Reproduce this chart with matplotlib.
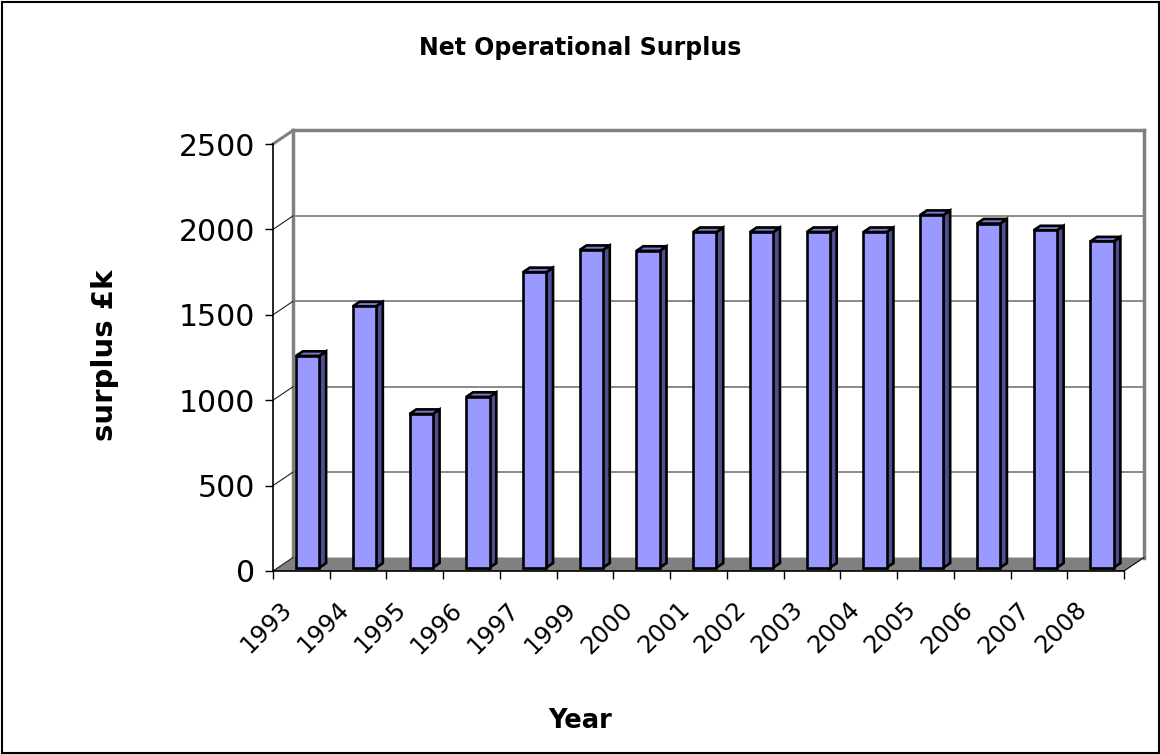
import numpy as np
import matplotlib
matplotlib.use('agg')
from matplotlib import pyplot as plt
from matplotlib.patches import Polygon, Rectangle
from matplotlib.transforms import ScaledTranslation

# ---------------------------------- data ----------------------------------
years = ['1993', '1994', '1995', '1996', '1997', '1999', '2000', '2001',
         '2002', '2003', '2004', '2005', '2006', '2007', '2008']
surplus = [1240, 1530, 900, 1000, 1730, 1860, 1855, 1965,
           1965, 1965, 1965, 2065, 2015, 1975, 1910]
y_ticks = [0, 500, 1000, 1500, 2000, 2500]

# ---------------------------------- style ----------------------------------
plt.rcParams['font.family'] = ['DejaVu Sans']
W, H = 1160, 754
front_col = '#9999ff'
side_col = '#4f4f8f'
top_col = '#7878cc'
wall_grey = '#808080'

fig = plt.figure(figsize=(W / 100, H / 100), dpi=100)
ax = fig.add_axes([273 / W, 1 - 571 / H, 851 / W, 427 / H])
ax.set_xlim(0, len(years))
ax.set_ylim(0, 2500)
ax.patch.set_visible(False)

# depth of the 3d box, in data units (~20 px right, ~13.5 px up)
px_x = 851 / len(years)
px_y = 427 / 2500
dx = 20 / px_x
dy = 13.5 / px_y
n = len(years)

# floor
ax.add_patch(Polygon([(0, 0), (n, 0), (n + dx, dy), (dx, dy)], closed=True,
                     facecolor=wall_grey, edgecolor='none', zorder=1, clip_on=False))
ax.plot([n, n + dx], [0, dy], color='black', lw=0.8, zorder=2, clip_on=False)

# back wall gridlines and border
for v in y_ticks[1:]:
    lw = 2.5 if v == y_ticks[-1] else 1.3
    ax.plot([dx, n + dx], [v + dy, v + dy], color=wall_grey, lw=lw, zorder=1, clip_on=False)
for xe in [dx, n + dx]:
    ax.plot([xe, xe], [dy, 2500 + dy], color=wall_grey, lw=2.5, zorder=1, clip_on=False)

# side wall diagonals
for v in y_ticks:
    if v == y_ticks[-1]:
        ax.plot([0, dx], [v, v + dy], color=wall_grey, lw=2.2, zorder=1, clip_on=False)
    else:
        ax.plot([0, dx], [v, v + dy], color='#202020', lw=0.8, zorder=1, clip_on=False)

# bars
f = 0.245
g = f + 0.34
for i, v in enumerate(surplus):
    x0 = i + 0.32
    x1 = i + 0.73
    front = [(x0 + f * dx, f * dy), (x1 + f * dx, f * dy),
             (x1 + f * dx, v + f * dy), (x0 + f * dx, v + f * dy)]
    side = [(x1 + f * dx, f * dy), (x1 + g * dx, g * dy),
            (x1 + g * dx, v + g * dy), (x1 + f * dx, v + f * dy)]
    top = [(x0 + f * dx, v + f * dy), (x1 + f * dx, v + f * dy),
           (x1 + g * dx, v + g * dy), (x0 + g * dx, v + g * dy)]
    for pts, col in [(side, side_col), (top, top_col), (front, front_col)]:
        ax.add_patch(Polygon(pts, closed=True, facecolor=col, edgecolor='black',
                             lw=1.9, joinstyle='miter', zorder=3, clip_on=False))

# axes
for s in ['top', 'right']:
    ax.spines[s].set_visible(False)
ax.spines['left'].set_color('black')
ax.spines['bottom'].set_color('black')
ax.spines['left'].set_linewidth(1.2)
ax.spines['bottom'].set_linewidth(1.2)

ax.set_yticks(y_ticks)
ax.tick_params(axis='y', length=6, width=1, pad=7, labelsize=21.5, colors='black')

ax.set_xticks(np.arange(n + 1), minor=True)
ax.set_xticks(np.arange(n) + 0.5, labels=years)
ax.tick_params(axis='x', which='minor', length=6, width=1, color='black')
ax.tick_params(axis='x', which='major', length=0, pad=19, labelsize=17.5)
for lab in ax.get_xticklabels():
    lab.set_rotation(45)
    lab.set_ha('right')
    lab.set_transform(lab.get_transform() + ScaledTranslation(-0.045, 0, fig.dpi_scale_trans))

# texts
fig.text(580 / W, 1 - 48 / H, 'Net Operational Surplus', ha='center', va='center',
         fontsize=17, fontweight='bold')
fig.text(105 / W, 1 - 355 / H, 'surplus £k', ha='center', va='center',
         rotation=90, fontsize=21, fontweight='bold')
fig.text(580 / W, 1 - 721 / H, 'Year', ha='center', va='center',
         fontsize=18.5, fontweight='bold')

# outer border
fig.add_artist(Rectangle((1.5 / W, 1.5 / H), 1 - 3 / W, 1 - 3 / H, transform=fig.transFigure,
                         fill=False, edgecolor='black', lw=1.5))

plt.savefig('out.png', dpi=100)
